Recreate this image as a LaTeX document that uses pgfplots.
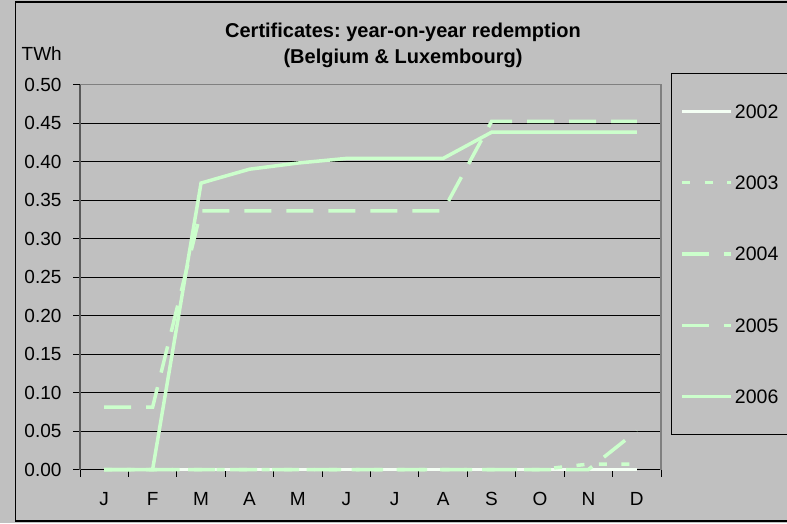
\documentclass[border=0pt]{standalone}
\usepackage{fontspec}
\setmainfont{Liberation Sans}
\usepackage{pgfplots}
\pgfplotsset{compat=1.18}
\definecolor{bg}{HTML}{C0C0C0}
\definecolor{lgreen}{HTML}{CCFFCC}
\definecolor{offwhite}{HTML}{F4FFF4}
\definecolor{border}{HTML}{808080}
\newcommand{\xlfont}{\fontsize{19}{22}\selectfont}
\newcommand{\ttlfont}{\fontsize{20}{24}\selectfont\bfseries}
\frenchspacing

\begin{document}
\begin{tikzpicture}
\useasboundingbox (0pt,0pt) rectangle (787pt,523pt);
\fill[bg] (0pt,0pt) rectangle (787pt,523pt);
\clip (0pt,0pt) rectangle (787pt,523pt);
\draw[black, line width=1.5pt] (15.5pt,2pt) rectangle (800pt,521pt);
\node[anchor=base, inner sep=0pt, font=\ttlfont] at (403pt,485.7pt) {Certificates: year-on-year redemption};
\node[anchor=base, inner sep=0pt, font=\ttlfont] at (403pt,459.7pt) {(Belgium \& Luxembourg)};
\node[anchor=base west, inner sep=0pt, font=\xlfont] at (21.5pt,462.3pt) {TWh};

\begin{axis}[
  at={(80pt,53.5pt)}, anchor=south west,
  width=581pt, height=385pt, scale only axis,
  xmin=0.5, xmax=12.5, ymin=0, ymax=0.5,
  xtick={0.5,1.5,...,12.5},
  xticklabels={J,F,M,A,M,J,J,A,S,O,N,D,{}},
  xticklabel style={xshift=24.2pt, yshift=-12.5pt},
  yticklabel style={xshift=-8pt},
  ytick={0,0.05,0.10,0.15,0.20,0.25,0.30,0.35,0.40,0.45,0.50},
  /pgf/number format/fixed, /pgf/number format/fixed zerofill,
  /pgf/number format/precision=2, /pgf/number format/assume math mode=true,
  tick label style={font=\xlfont},
  axis x line*=bottom, axis y line*=left,
  x axis line style={black, line width=1.2pt},
  y axis line style={draw=black!65, line width=1.8pt},
  tick align=outside, major tick length=7pt,
  tick style={black, line width=1pt},
  ymajorgrids, grid style={black, line width=0.9pt},
  clip=false,
  legend cell align=left,
  legend style={at={(1.0172,1.0299)}, anchor=north west, draw=black, line width=1pt,
    fill=bg, inner xsep=9pt, inner ysep=31pt, row sep=57.75pt, font=\fontsize{19.5}{22}\selectfont,
    nodes={inner sep=0pt, text height=13.6pt, text depth=0pt}},
  legend image code/.code={\draw[#1] (0pt,0pt) -- (49pt,0pt); \path (51pt,0pt);},
]
\addplot[offwhite, line width=3.5pt] coordinates {
  (1,0) (2,0) (3,0) (4,0) (5,0) (6,0) (7,0) (8,0) (9,0) (10,0) (11,0) (12,0)};
\addlegendentry{2002}
\addplot[lgreen, line width=3.5pt, dash pattern=on 8pt off 14.5pt] coordinates {
  (1,0) (2,0) (3,0) (4,0) (5,0) (6,0) (7,0) (8,0) (9,0) (10,0) (11,0.007) (12,0.007)};
\addlegendentry{2003}
\addplot[lgreen, line width=3.5pt, dash pattern=on 27pt off 15pt] coordinates {
  (1,0) (2,0) (3,0) (4,0) (5,0) (6,0) (7,0) (8,0) (9,0) (10,0) (11,0) (12,0.05)};
\addlegendentry{2004}
\addplot[lgreen, line width=3.5pt, dash pattern=on 27pt off 15pt] coordinates {
  (1,0.081) (2,0.081) (3,0.336) (4,0.336) (5,0.336) (6,0.336) (7,0.336) (8,0.336)
  (9,0.452) (10,0.452) (11,0.452) (12,0.452)};
\addlegendentry{2005}
\addplot[lgreen, line width=3.5pt] coordinates {
  (1,0) (2,0) (3,0.372) (4,0.390) (5,0.398) (6,0.404) (7,0.404) (8,0.404)
  (9,0.438) (10,0.438) (11,0.438) (12,0.438)};
\addlegendentry{2006}
\draw[border, line width=1.2pt] (rel axis cs:0,1) -- (rel axis cs:1,1) -- (rel axis cs:1,0);
\end{axis}
\end{tikzpicture}
\end{document}
